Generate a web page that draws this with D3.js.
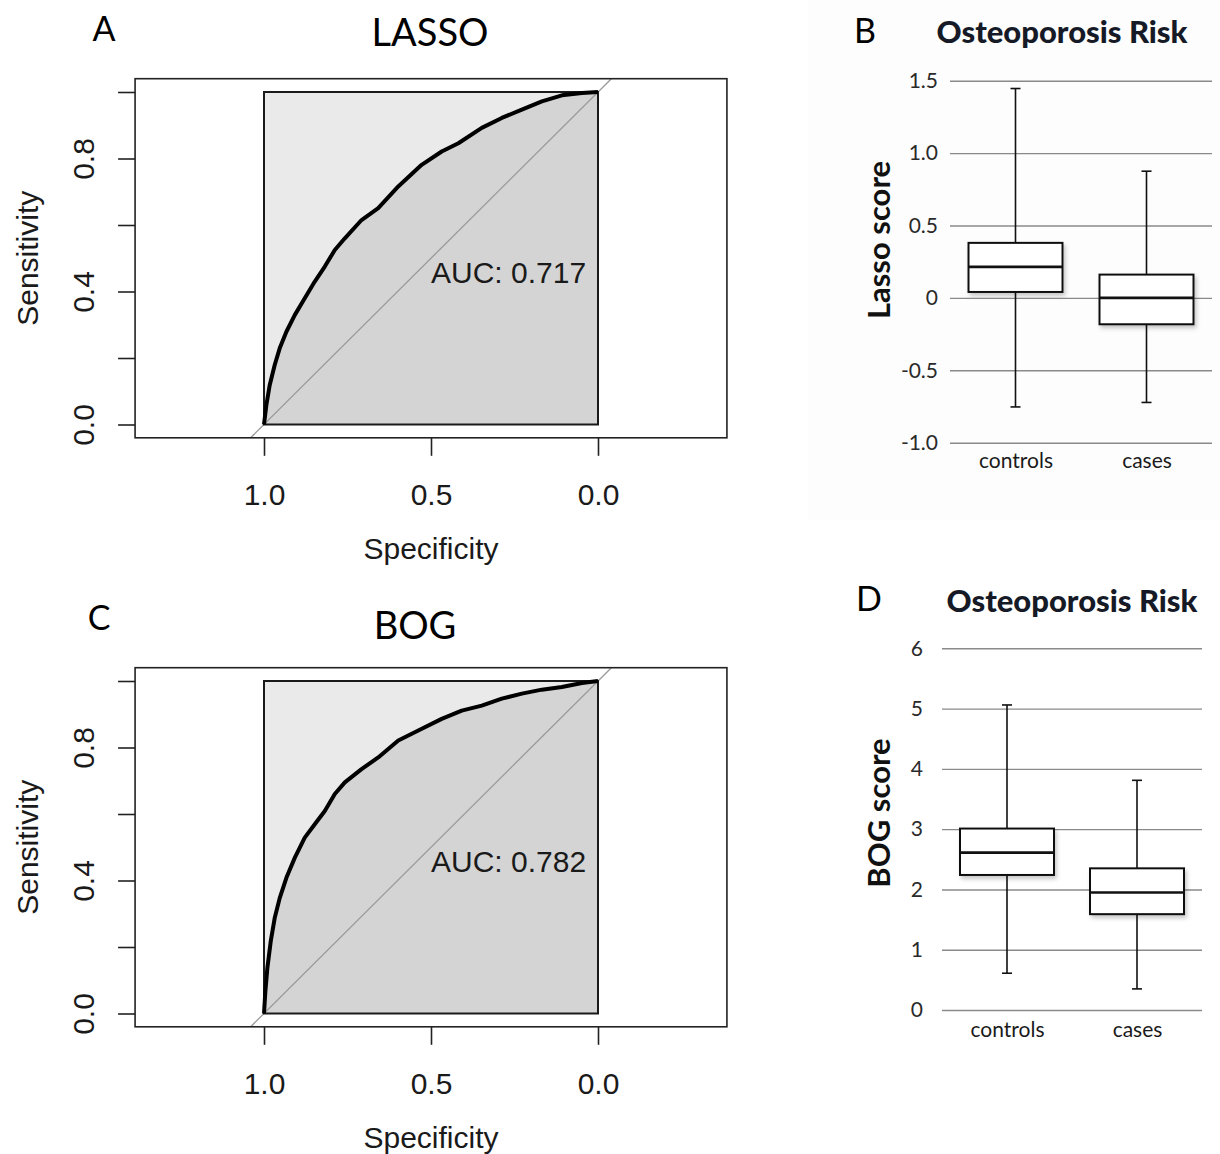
<!DOCTYPE html>
<html>
<head>
<meta charset="utf-8">
<script src="https://cdn.jsdelivr.net/npm/d3@7"></script>
<style>
  body { margin: 0; background: #fff; }
  svg { display: block; }
</style>
</head>
<body>
<div id="chart"></div>
<script>
// ROC curves (specificity goes 1 -> 0 on the x axis)
var lassoSpec = [1.0, 0.993, 0.983, 0.968, 0.953, 0.933, 0.908, 0.878, 0.848, 0.818, 0.788, 0.758, 0.708, 0.658, 0.598, 0.528, 0.468, 0.418, 0.348, 0.288, 0.228, 0.168, 0.108, 0.048, 0.0];
var lassoSens = [0.0, 0.058, 0.118, 0.179, 0.229, 0.279, 0.329, 0.380, 0.430, 0.475, 0.525, 0.560, 0.615, 0.651, 0.716, 0.781, 0.821, 0.846, 0.892, 0.922, 0.947, 0.972, 0.990, 0.997, 1.0];
var bogSpec = [1.0, 0.996, 0.990, 0.980, 0.968, 0.953, 0.933, 0.908, 0.878, 0.848, 0.818, 0.788, 0.758, 0.708, 0.658, 0.598, 0.538, 0.468, 0.408, 0.348, 0.288, 0.228, 0.168, 0.108, 0.048, 0.0];
var bogSens = [0.0, 0.065, 0.136, 0.216, 0.287, 0.347, 0.408, 0.468, 0.529, 0.569, 0.609, 0.660, 0.695, 0.735, 0.770, 0.821, 0.851, 0.886, 0.911, 0.926, 0.947, 0.962, 0.974, 0.982, 0.994, 1.0];

var sensTicks = [0, 0.2, 0.4, 0.6, 0.8, 1.0];
var sensLabelled = [0, 0.4, 0.8];
var specTicks = [1.0, 0.5, 0.0];

// box plots
var boxCategories = ["controls", "cases"];
var lassoMin = [-0.753, -0.722];
var lassoQ1 = [0.041, -0.182];
var lassoMedian = [0.214, 0.0];
var lassoQ3 = [0.38, 0.161];
var lassoMax = [1.446, 0.875];
var lassoTicks = [-1.0, -0.5, 0, 0.5, 1.0, 1.5];
var lassoTickLabels = ["-1.0", "-0.5", "0", "0.5", "1.0", "1.5"];

var bogMin = [0.61, 0.35];
var bogQ1 = [2.24, 1.59];
var bogMedian = [2.61, 1.95];
var bogQ3 = [3.01, 2.35];
var bogMax = [5.06, 3.81];
var bogTicks = [0, 1, 2, 3, 4, 5, 6];
var bogTickLabels = ["0", "1", "2", "3", "4", "5", "6"];

var rFont = "'Liberation Sans', Arial, Helvetica, sans-serif";
var cFont = "Lato, 'Open Sans', sans-serif";

var svg = d3.select("#chart").append("svg")
  .attr("width", 1220)
  .attr("height", 1154);

var defs = svg.append("defs");
var shadow = defs.append("filter").attr("id", "shadow")
  .attr("x", "-10%").attr("y", "-10%").attr("width", "130%").attr("height", "140%");
shadow.append("feDropShadow")
  .attr("dx", 2).attr("dy", 3).attr("stdDeviation", 2)
  .attr("flood-color", "#000").attr("flood-opacity", 0.22);

// faint background behind panel B
svg.append("rect").attr("x", 808).attr("y", 0).attr("width", 412).attr("height", 520)
  .attr("fill", "#fdfdfd");

function drawRoc(o) {
  var x = d3.scaleLinear().domain([1, 0]).range([264, 598]);
  var y = d3.scaleLinear().domain([0, 1]).range([424.5 + o.off, 92 + o.off]);
  var g = svg.append("g");

  var pts = o.spec.map(function (s, i) { return { spec: s, sens: o.sens[i] }; });

  // square behind the curve
  g.append("rect")
    .attr("x", x(1)).attr("y", y(1))
    .attr("width", x(0) - x(1)).attr("height", y(0) - y(1))
    .attr("fill", "#eaeaea");

  var area = d3.area()
    .x(function (d) { return x(d.spec); })
    .y0(y(0))
    .y1(function (d) { return y(d.sens); });
  g.append("path").datum(pts).attr("d", area).attr("fill", "#d4d4d4");

  // identity line, runs over the whole plot region
  g.append("line")
    .attr("x1", x(1.04)).attr("y1", y(-0.04))
    .attr("x2", x(-0.04)).attr("y2", y(1.04))
    .attr("stroke", "#9a9a9a").attr("stroke-width", 1.3);

  g.append("rect")
    .attr("x", x(1)).attr("y", y(1))
    .attr("width", x(0) - x(1)).attr("height", y(0) - y(1))
    .attr("fill", "none").attr("stroke", "#1a1a1a").attr("stroke-width", 2);

  var line = d3.line()
    .x(function (d) { return x(d.spec); })
    .y(function (d) { return y(d.sens); });
  g.append("path").datum(pts).attr("d", line)
    .attr("fill", "none").attr("stroke", "#000").attr("stroke-width", 4)
    .attr("stroke-linejoin", "round");

  // plot frame
  g.append("rect")
    .attr("x", x(1.386)).attr("y", y(1.04))
    .attr("width", x(-0.386) - x(1.386)).attr("height", y(-0.04) - y(1.04))
    .attr("fill", "none").attr("stroke", "#222").attr("stroke-width", 1.6);

  var yAxis = g.append("g")
    .attr("transform", "translate(" + x(1.386) + ",0)")
    .call(d3.axisLeft(y).tickValues(sensTicks).tickSize(17)
      .tickFormat(function (d) { return sensLabelled.indexOf(d) >= 0 ? d3.format(".1f")(d) : ""; }));
  yAxis.select(".domain").remove();
  yAxis.selectAll(".tick line").attr("stroke", "#222").attr("stroke-width", 1.6);
  yAxis.selectAll(".tick text")
    .attr("transform", "rotate(-90)")
    .attr("x", 0).attr("y", -41).attr("dy", 0)
    .attr("text-anchor", "middle")
    .style("font-family", rFont).style("font-size", "30px").attr("fill", "#1a1a1a");

  var xAxis = g.append("g")
    .attr("transform", "translate(0," + y(-0.04) + ")")
    .call(d3.axisBottom(x).tickValues(specTicks).tickSize(18).tickFormat(d3.format(".1f")));
  xAxis.select(".domain").remove();
  xAxis.selectAll(".tick line").attr("stroke", "#222").attr("stroke-width", 1.6);
  xAxis.selectAll(".tick text")
    .attr("y", 67).attr("dy", 0)
    .style("font-family", rFont).style("font-size", "30px").attr("fill", "#1a1a1a");

  g.append("text")
    .attr("x", x(0.5)).attr("y", y(0.5) + 25)
    .style("font-family", rFont).style("font-size", "30px").attr("fill", "#1a1a1a")
    .text("AUC: " + o.auc);

  g.append("text")
    .attr("x", (x(1.386) + x(-0.386)) / 2).attr("y", 559 + o.off)
    .attr("text-anchor", "middle")
    .style("font-family", rFont).style("font-size", "30px").attr("fill", "#1a1a1a")
    .text("Specificity");

  g.append("text")
    .attr("transform", "translate(38," + (y(1.04) + y(-0.04)) / 2 + ") rotate(-90)")
    .attr("text-anchor", "middle")
    .style("font-family", rFont).style("font-size", "30px").attr("fill", "#1a1a1a")
    .text("Sensitivity");

  g.append("text")
    .attr("x", o.titleX).attr("y", o.titleY)
    .attr("text-anchor", "middle")
    .style("font-family", cFont).style("font-size", "38px").attr("fill", "#000")
    .text(o.title);

  g.append("text")
    .attr("x", o.letterX).attr("y", o.letterY)
    .attr("text-anchor", "middle")
    .style("font-family", cFont).style("font-size", "34px").attr("fill", "#000")
    .text(o.letter);
}

function drawBox(o) {
  var y = d3.scaleLinear().domain(o.domain).range(o.yRange);
  var x = d3.scalePoint().domain(boxCategories).range(o.xRange).padding(0.5);
  var g = svg.append("g");
  var boxW = 94;

  var yAxis = g.append("g")
    .attr("transform", "translate(" + o.xRange[0] + ",0)")
    .call(d3.axisLeft(y).tickValues(o.ticks)
      .tickSize(-(o.xRange[1] - o.xRange[0]))
      .tickPadding(o.labelGap)
      .tickFormat(function (d, i) { return o.tickLabels[i]; }));
  yAxis.select(".domain").remove();
  yAxis.selectAll(".tick line").attr("stroke", "#8a8a8a").attr("stroke-width", 1.4);
  yAxis.selectAll(".tick text")
    .style("font-family", cFont).style("font-size", "21px").attr("fill", "#2a2a2a");

  var boxes = g.selectAll(".box").data(boxCategories).enter().append("g").attr("class", "box");

  // whiskers
  boxes.append("line")
    .attr("x1", function (d) { return x(d); }).attr("x2", function (d) { return x(d); })
    .attr("y1", function (d, i) { return y(o.max[i]); })
    .attr("y2", function (d, i) { return y(o.min[i]); })
    .attr("stroke", "#111").attr("stroke-width", 1.6);
  boxes.append("line")
    .attr("x1", function (d) { return x(d) - 5; }).attr("x2", function (d) { return x(d) + 5; })
    .attr("y1", function (d, i) { return y(o.max[i]); })
    .attr("y2", function (d, i) { return y(o.max[i]); })
    .attr("stroke", "#111").attr("stroke-width", 1.6);
  boxes.append("line")
    .attr("x1", function (d) { return x(d) - 5; }).attr("x2", function (d) { return x(d) + 5; })
    .attr("y1", function (d, i) { return y(o.min[i]); })
    .attr("y2", function (d, i) { return y(o.min[i]); })
    .attr("stroke", "#111").attr("stroke-width", 1.6);

  boxes.append("rect")
    .attr("x", function (d) { return x(d) - boxW / 2; })
    .attr("y", function (d, i) { return y(o.q3[i]); })
    .attr("width", boxW)
    .attr("height", function (d, i) { return y(o.q1[i]) - y(o.q3[i]); })
    .attr("fill", "#fff").attr("stroke", "#111").attr("stroke-width", 2)
    .attr("filter", "url(#shadow)");

  boxes.append("line")
    .attr("x1", function (d) { return x(d) - boxW / 2; })
    .attr("x2", function (d) { return x(d) + boxW / 2; })
    .attr("y1", function (d, i) { return y(o.median[i]); })
    .attr("y2", function (d, i) { return y(o.median[i]); })
    .attr("stroke", "#111").attr("stroke-width", 2.6);

  var xAxis = g.append("g")
    .attr("transform", "translate(0," + o.catY + ")")
    .call(d3.axisBottom(x).tickSize(0));
  xAxis.select(".domain").remove();
  xAxis.selectAll(".tick text")
    .attr("y", 0).attr("dy", 0)
    .style("font-family", cFont).style("font-size", "21px").attr("fill", "#1a1a1a");

  g.append("text")
    .attr("transform", "translate(890," + o.axisLabelY + ") rotate(-90)")
    .attr("text-anchor", "middle")
    .style("font-family", cFont).style("font-size", "31px").style("font-weight", "bold")
    .attr("fill", "#111")
    .text(o.axisLabel);

  g.append("text")
    .attr("x", o.titleX).attr("y", o.titleY)
    .attr("text-anchor", "middle")
    .style("font-family", cFont).style("font-size", "31px").style("font-weight", "900")
    .attr("fill", "#151a26")
    .text("Osteoporosis Risk");

  g.append("text")
    .attr("x", o.letterX).attr("y", o.letterY)
    .attr("text-anchor", "middle")
    .style("font-family", cFont).style("font-size", "34px").attr("fill", "#000")
    .text(o.letter);
}

drawRoc({ off: 0, spec: lassoSpec, sens: lassoSens, auc: "0.717",
  title: "LASSO", titleX: 430, titleY: 46, letter: "A", letterX: 104, letterY: 41 });
drawRoc({ off: 589, spec: bogSpec, sens: bogSens, auc: "0.782",
  title: "BOG", titleX: 415, titleY: 639, letter: "C", letterX: 99, letterY: 630 });

drawBox({ domain: [-1, 1.5], yRange: [442.7, 80.7], xRange: [950, 1212],
  ticks: lassoTicks, tickLabels: lassoTickLabels, labelGap: 12,
  min: lassoMin, q1: lassoQ1, median: lassoMedian, q3: lassoQ3, max: lassoMax,
  catY: 468, axisLabel: "Lasso score", axisLabelY: 240,
  titleX: 1062, titleY: 43, letter: "B", letterX: 865, letterY: 43 });
drawBox({ domain: [0, 6], yRange: [1010, 648.3], xRange: [942, 1202],
  ticks: bogTicks, tickLabels: bogTickLabels, labelGap: 19,
  min: bogMin, q1: bogQ1, median: bogMedian, q3: bogQ3, max: bogMax,
  catY: 1037, axisLabel: "BOG score", axisLabelY: 813,
  titleX: 1072, titleY: 612, letter: "D", letterX: 869, letterY: 611 });
</script>
</body>
</html>
